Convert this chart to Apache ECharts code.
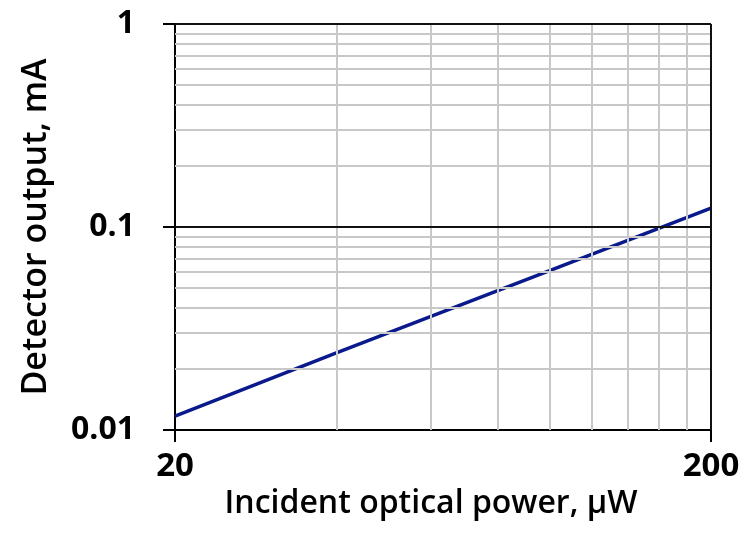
<!DOCTYPE html>
<html>
<head>
<meta charset="utf-8">
<script src="https://cdn.jsdelivr.net/npm/echarts@6/dist/echarts.min.js"></script>
<style>html,body{margin:0;padding:0;background:#fff;}#c{width:747px;height:547px;}</style>
</head>
<body>
<div id="c"></div>
<script>
const powerUW = [20, 40, 100, 200];
const outputMA = [0.0117, 0.024, 0.061, 0.124];
const xTickLabels = [20, 200];
const yTickLabels = [0.01, 0.1, 1];
const xMinorGrid = [40, 60, 80, 100, 120, 140, 160, 180];
const yMinorGrid = [0.02, 0.03, 0.04, 0.05, 0.06, 0.07, 0.08, 0.09, 0.2, 0.3, 0.4, 0.5, 0.6, 0.7, 0.8, 0.9];
const xMajorGrid = [200];
const yMajorGrid = [0.1, 1];

const FONT = '"Open Sans", sans-serif';
const chart = echarts.init(document.getElementById('c'), null, {renderer: 'canvas'});
chart.setOption({
  animation: false,
  backgroundColor: '#fff',
  grid: {left: 175, right: 36, top: 24, bottom: 117},
  xAxis: {
    type: 'log', logBase: 10, min: 20, max: 200,
    name: 'Incident optical power, µW',
    nameLocation: 'middle', nameGap: 42,
    nameTextStyle: {fontFamily: FONT, fontSize: 32, fontWeight: 600, color: '#000', padding: [0, 24, 0, 0]},
    axisLine: {show: true, lineStyle: {color: '#000', width: 2}},
    axisTick: {show: true, length: 12, inside: false, customValues: xTickLabels, lineStyle: {color: '#000', width: 2}},
    axisLabel: {customValues: xTickLabels, fontFamily: FONT, fontSize: 33, fontWeight: 'bold', color: '#000', margin: 20},
    splitLine: {show: false},
    minorTick: {show: false}, minorSplitLine: {show: false}
  },
  yAxis: {
    type: 'log', logBase: 10, min: 0.01, max: 1,
    name: 'Detector output, mA',
    nameLocation: 'middle', nameGap: 122, nameRotate: 90,
    nameTextStyle: {fontFamily: FONT, fontSize: 34, fontWeight: 600, color: '#000'},
    axisLine: {show: true, lineStyle: {color: '#000', width: 2}},
    axisTick: {show: true, length: 12, inside: false, customValues: yTickLabels, lineStyle: {color: '#000', width: 2}},
    axisLabel: {customValues: yTickLabels, fontFamily: FONT, fontSize: 32, fontWeight: 'bold', color: '#000', margin: 40,
      formatter: v => String(v)},
    splitLine: {show: false}
  },
  series: [
    {
      type: 'line', z: 1, data: [], silent: true,
      markLine: {
        silent: true, symbol: ['none', 'none'], label: {show: false},
        lineStyle: {color: '#c8c8c8', width: 2, type: 'solid'},
        data: xMinorGrid.map(v => ({xAxis: v})).concat(yMinorGrid.map(v => ({yAxis: v})))
      }
    },
    {
      type: 'line', z: 2, data: [], silent: true,
      markLine: {
        silent: true, symbol: ['none', 'none'], label: {show: false},
        lineStyle: {color: '#111', width: 2, type: 'solid'},
        data: xMajorGrid.map(v => ({xAxis: v})).concat(yMajorGrid.map(v => ({yAxis: v})))
      }
    },
    {
      type: 'line', z: 3,
      data: powerUW.map((x, i) => [x, outputMA[i]]),
      showSymbol: false, symbol: 'none',
      lineStyle: {color: '#0a1a8c', width: 3.5}
    }
  ]
});
</script>
</body>
</html>
